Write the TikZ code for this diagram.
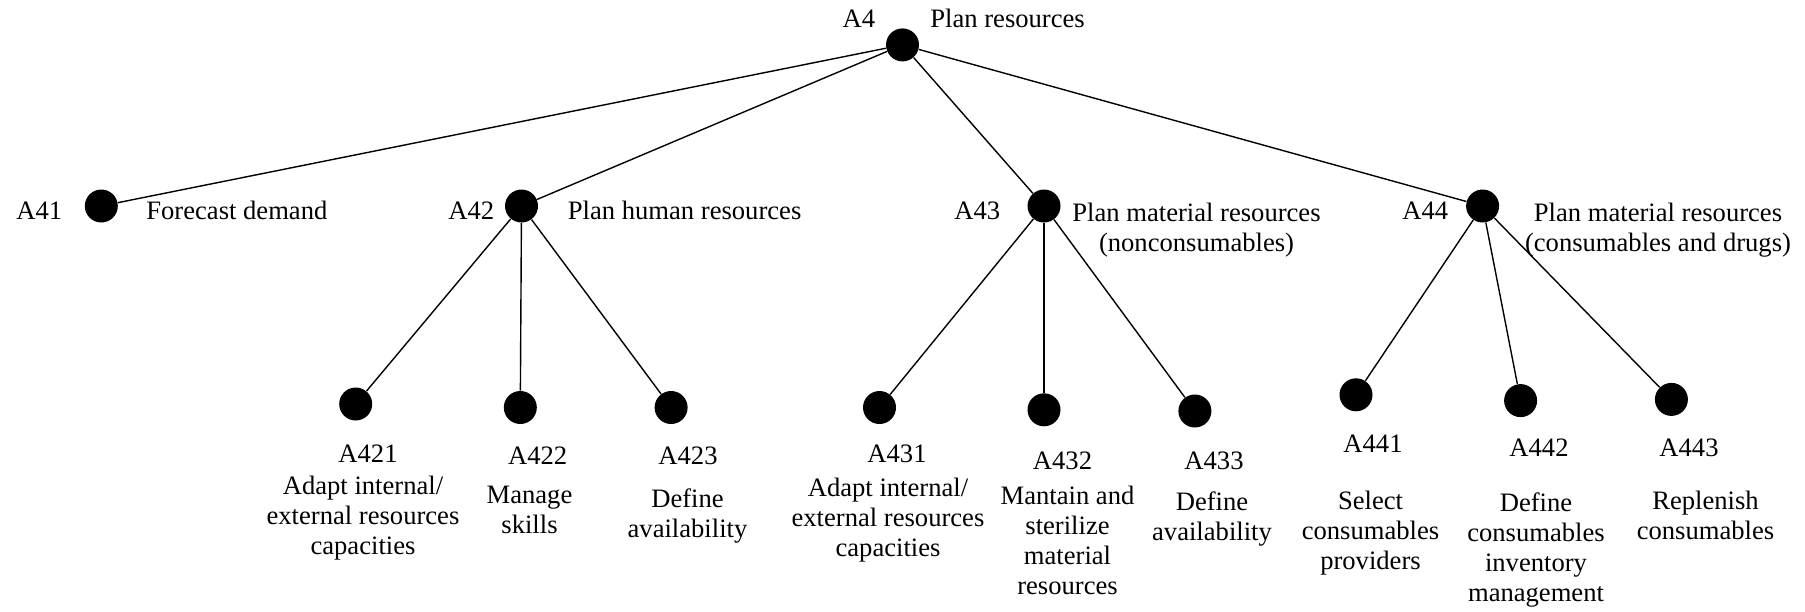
\documentclass[tikz,border=0pt]{standalone}
\usepackage{fontspec}
\setmainfont{Liberation Serif}
\usetikzlibrary{positioning}

\begin{document}
\begin{tikzpicture}[x=0.5pt,y=-0.5pt,
    dot/.style={circle,fill=black,inner sep=0pt,minimum size=16.5pt},
    lbl/.style={inner sep=0pt,font=\fontsize{13.3pt}{15pt}\selectfont},
    desc/.style={lbl,align=center,anchor=north},
    branch/.style={line width=0.7pt}]
      % Page frame
      \useasboundingbox (0,0) rectangle (1805,611);
      % Activity dots
      \node[dot] (A4) at (902.5,44.9) {};
      \node[dot] (A41) at (101.3,206) {};
      \node[dot] (A42) at (521.5,206) {};
      \node[dot] (A43) at (1044,206) {};
      \node[dot] (A44) at (1482.6,206) {};
      \node[dot] (A421) at (355.7,404) {};
      \node[dot] (A422) at (520.3,407.5) {};
      \node[dot] (A423) at (671.1,407.5) {};
      \node[dot] (A431) at (879.5,407.5) {};
      \node[dot] (A432) at (1044,409.8) {};
      \node[dot] (A433) at (1194.9,411) {};
      \node[dot] (A441) at (1356,394.8) {};
      \node[dot] (A442) at (1520.6,400.6) {};
      \node[dot] (A443) at (1671.4,399.4) {};
      % Decomposition branches
      \draw[branch] (A4) -- (A41);
      \draw[branch] (A4) -- (A42);
      \draw[branch] (A4) -- (A43);
      \draw[branch] (A4) -- (A44);
      \draw[branch] (A42) -- (A421);
      \draw[branch] (A42) -- (A422);
      \draw[branch] (A42) -- (A423);
      \draw[branch] (A43) -- (A431);
      \draw[branch] (A43) -- (A432);
      \draw[branch] (A43) -- (A433);
      \draw[branch] (A44) -- (A441);
      \draw[branch] (A44) -- (A442);
      \draw[branch] (A44) -- (A443);
      % Top level labels
      \node[lbl,anchor=mid] (A4id) at (858.8,22.6) {A4};
      \node[lbl,anchor=mid west] (A4txt) at (930,22.6) {Plan resources};
      \node[lbl,anchor=mid west] (A41id) at (16,215) {A41};
      \node[lbl,anchor=mid west] (A41txt) at (146,215) {Forecast demand};
      \node[lbl,anchor=mid west] (A42id) at (448,215) {A42};
      \node[lbl,anchor=mid west] (A42txt) at (567.5,215) {Plan human resources};
      \node[lbl,anchor=mid west] (A43id) at (954,215) {A43};
      \node[desc] (A43txt) at (1196.5,202.5) {Plan material resources\\(nonconsumables)};
      \node[lbl,anchor=mid west] (A44id) at (1402,215) {A44};
      \node[desc] (A44txt) at (1658,202.5) {Plan material resources\\(consumables and drugs)};
      % Leaf labels
      \node[lbl,anchor=mid] (A421id) at (368,457.5) {A421};
      \node[desc] (A421txt) at (363,476) {Adapt internal/\\external resources\\capacities};
      \node[lbl,anchor=mid] (A422id) at (537.7,460) {A422};
      \node[desc] (A422txt) at (529.5,486) {Manage\\skills};
      \node[lbl,anchor=mid] (A423id) at (688,460) {A423};
      \node[desc] (A423txt) at (687.5,488) {Define\\availability};
      \node[lbl,anchor=mid] (A431id) at (897,458.3) {A431};
      \node[desc] (A431txt) at (888,478) {Adapt internal/\\external resources\\capacities};
      \node[lbl,anchor=mid] (A432id) at (1062.5,464.5) {A432};
      \node[desc] (A432txt) at (1067.5,485.5) {Mantain and\\sterilize\\material\\resources};
      \node[lbl,anchor=mid] (A433id) at (1214,465) {A433};
      \node[desc] (A433txt) at (1212,491) {Define\\availability};
      \node[lbl,anchor=mid] (A441id) at (1373,448.3) {A441};
      \node[desc] (A441txt) at (1370.5,490.5) {Select\\consumables\\providers};
      \node[lbl,anchor=mid] (A442id) at (1539,452) {A442};
      \node[desc] (A442txt) at (1536,492) {Define\\consumables\\inventory\\management};
      \node[lbl,anchor=mid] (A443id) at (1689,452) {A443};
      \node[desc] (A443txt) at (1705.5,491) {Replenish\\consumables};
    \end{tikzpicture}
\end{document}
